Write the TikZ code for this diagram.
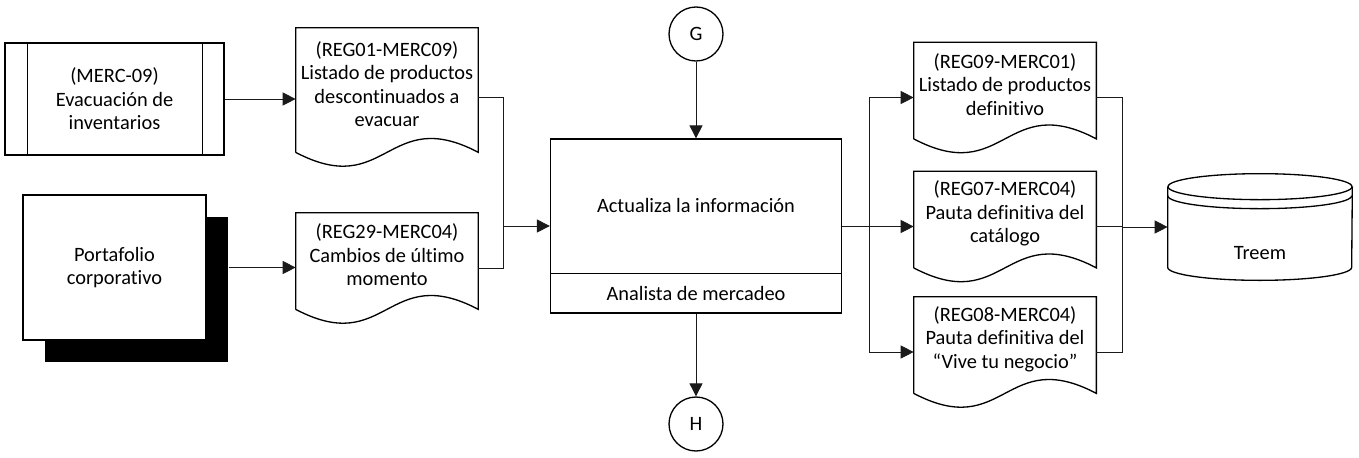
\documentclass[tikz,border=0pt]{standalone}
\usepackage{fontspec}
\setmainfont{Carlito}[Ligatures=NoCommon]
\usepackage{tikz}
\usetikzlibrary{arrows.meta,positioning,calc,shadows}
\definecolor{ink}{HTML}{000000}
\definecolor{wirec}{HTML}{1A1A1A}
\newcommand{\diagfont}{\fontsize{11.6}{13.4}\selectfont}
\tikzset{
  border/.style={draw=ink,line width=0.75pt,line join=miter},
  boxed/.style={border,fill=white,align=center,inner sep=2pt},
  txt/.style={align=center,inner sep=1pt},
  docnode/.style={txt,minimum width=3.64cm},
  wire/.style={draw=wirec,line width=0.5pt},
  arrowwire/.style={wire,-{Triangle[length=0.26cm,width=0.26cm]}},
  connector/.style={circle,border,minimum size=1.08cm,inner sep=0pt},
}

\begin{document}
\begin{tikzpicture}[x=0.02cm,y=-0.02cm,font=\diagfont]
  % pixel grid: x right, y down, 1px = 0.02cm
  \useasboundingbox (0,0) rectangle (1359,457);

  % Inputs
  \node[boxed,minimum width=4.38cm,minimum height=2.24cm] (sub) at (114.5,99)
    {(MERC-09)\\Evacuación de\\inventarios};
  \draw[border] ([xshift=0.46cm]sub.north west) -- ([xshift=0.46cm]sub.south west)
    ([xshift=-0.44cm]sub.north east) -- ([xshift=-0.44cm]sub.south east);

  \node[boxed,minimum width=3.66cm,minimum height=2.9cm,
        drop shadow={shadow xshift=0.44cm,shadow yshift=-0.44cm,fill=black,opacity=1}]
    (port) at (114.5,267.5) {Portafolio\\corporativo};

  % Documents
  \node[docnode,minimum height=2.24cm] (d1) at (387,84)
    {(REG01-MERC09)\\Listado de productos\\descontinuados a\\evacuar};
  \node[docnode,minimum height=1.68cm] (d2) at (387,255)
    {(REG29-MERC04)\\Cambios de último\\momento};
  \node[docnode,minimum height=1.68cm] (r1) at (1005,84.5)
    {(REG09-MERC01)\\Listado de productos\\definitivo};
  \node[docnode,minimum height=1.68cm] (r2) at (1005,213.5)
    {(REG07-MERC04)\\Pauta definitiva del\\catálogo};
  \node[docnode,minimum height=1.68cm] (r3) at (1005,339)
    {(REG08-MERC04)\\Pauta definitiva del\\“Vive tu negocio”};
  \foreach \d in {d1,d2,r1,r2,r3}{
    \draw[border] ($(\d.south west)+(0,12)$) -- (\d.north west) -- (\d.north east)
      -- ($(\d.south east)+(0,12)$)
      .. controls ($(\d.south)+(0,-36)$) and ($(\d.south)+(0,60)$) .. ($(\d.south west)+(0,12)$);
  }

  % Process
  \node[draw=ink,line width=0.75pt,minimum width=5.82cm,minimum height=3.48cm] (proc) at (696,226) {};
  \draw[border] ($(proc.south west)+(0,-40)$) -- ($(proc.south east)+(0,-40)$);
  \node[txt] (procTask) at ($(proc.north)+(0,67)$) {Actualiza la información};
  \node[txt] (procRole) at ($(proc.south)+(0,-20)$) {Analista de mercadeo};

  \node[connector] (G) at (696,34) {G};
  \node[connector] (H) at (696,424) {H};

  % Store
  \node[minimum width=3.68cm,minimum height=2.12cm,inner sep=0pt] (db) at (1260,227) {};
  \draw[border] ($(db.north)+(0,13)$) ellipse [x radius=92,y radius=13];
  \draw[border] ($(db.north west)+(0,22)$) arc[start angle=180,end angle=0,x radius=92,y radius=13];
  \draw[border] ($(db.north west)+(0,13)$) -- ($(db.south west)+(0,-13)$)
    arc[start angle=180,end angle=0,x radius=92,y radius=13] -- ($(db.north east)+(0,13)$);
  \node[txt] (dbName) at ($(db.center)+(0,26)$) {Treem};

  % Connectors
  \draw[arrowwire] (sub.east) -- (sub.east -| d1.west);
  \draw[arrowwire] ([xshift=0.44cm]port.east) -- (port.east -| d2.west);

  \coordinate (joinL) at ($(proc.west)+(-46,0)$);
  \draw[wire] ($(d1.east)+(0,13)$) -| (joinL) |- ($(d2.east)+(0,13)$);
  \draw[arrowwire] (joinL) -- (proc.west);

  \draw[arrowwire] (G) -- (proc);
  \draw[arrowwire] (proc) -- (H);

  \coordinate (splitR) at ($(proc.east)+(27,0)$);
  \draw[wire] (proc.east) -- (splitR);
  \foreach \d in {r1,r2,r3}
    \draw[arrowwire] (splitR) |- ($(\d.west)+(0,13)$);

  \coordinate (joinR) at ($(db.west)+(-45,0)$);
  \foreach \d in {r1,r2,r3}
    \draw[wire] ($(\d.east)+(0,13)$) -| (joinR);
  \draw[arrowwire] (joinR) -- (db.west);
\end{tikzpicture}
\end{document}
